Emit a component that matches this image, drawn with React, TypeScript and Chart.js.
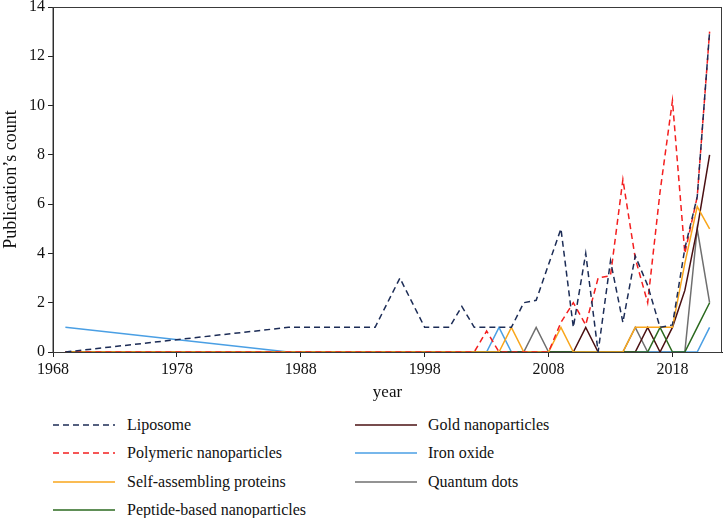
import React, { useEffect, useRef } from "react";
import { Chart, registerables } from "chart.js";

Chart.register(...registerables);

// ---- axis ticks ----
const xTickYears = [1968, 1978, 1988, 1998, 2008, 2018];
const yTickValues = [0, 2, 4, 6, 8, 10, 12, 14];

// ---- series data (year, publication count) ----
const liposomeYears = [1969, 1987, 1994, 1996, 1998, 2000, 2001, 2002, 2005, 2006, 2007, 2009, 2010, 2011, 2012, 2013, 2014, 2015, 2016, 2017, 2018, 2019, 2020, 2021];
const liposomeCounts = [0, 1, 1, 3, 1, 1, 1.85, 1, 1, 2, 2.1, 5, 1, 4, 0, 3.7, 1.2, 3.9, 2.7, 1, 1.1, 4.2, 6.3, 13];

const polymericYears = [1969, 2002, 2003, 2004, 2008, 2009, 2010, 2011, 2012, 2013, 2014, 2015, 2016, 2017, 2018, 2019, 2020, 2021];
const polymericCounts = [0, 0, 0.85, 0, 0, 1.2, 2, 1.1, 3, 3.1, 7, 3.8, 2, 6.5, 10.2, 4, 6.3, 13];

const selfAssemblingYears = [1969, 2004, 2005, 2006, 2008, 2009, 2010, 2014, 2015, 2016, 2017, 2018, 2019, 2020, 2021];
const selfAssemblingCounts = [0, 0, 1, 0, 0, 1, 0, 0, 1, 1, 1, 1, 3.6, 5.9, 5];

const peptideYears = [1969, 2016, 2017, 2018, 2019, 2020, 2021];
const peptideCounts = [0, 0, 1, 0, 0, 1, 2];

const goldYears = [1969, 2010, 2011, 2012, 2015, 2016, 2017, 2018, 2019, 2020, 2021];
const goldCounts = [0, 0, 1, 0, 0, 1, 0, 1, 2.5, 5, 8];

const ironOxideYears = [1969, 1987, 2003, 2004, 2005, 2020, 2021];
const ironOxideCounts = [1, 0, 0, 1, 0, 0, 1];

const quantumDotsYears = [1969, 2006, 2007, 2008, 2014, 2015, 2016, 2019, 2020, 2021];
const quantumDotsCounts = [0, 0, 1, 0, 0, 1, 0, 0, 5, 2];

const seriesNames = [
  "Liposome",
  "Polymeric nanoparticles",
  "Self-assembling proteins",
  "Peptide-based nanoparticles",
  "Gold nanoparticles",
  "Iron oxide",
  "Quantum dots",
];

const seriesData = [
  [liposomeYears, liposomeCounts],
  [polymericYears, polymericCounts],
  [selfAssemblingYears, selfAssemblingCounts],
  [peptideYears, peptideCounts],
  [goldYears, goldCounts],
  [ironOxideYears, ironOxideCounts],
  [quantumDotsYears, quantumDotsCounts],
];

// ---- styles ----
const seriesColors = ["#1c2c56", "#f41f1f", "#f9a61b", "#2b6a1f", "#4a1012", "#4a9fe4", "#6f6f6f"];
const seriesDashed = [true, true, false, false, false, false, false];

const FONT = "'Liberation Serif', 'Times New Roman', serif";
const W = 723;
const CANVAS_H = 405;

const framePlugin = {
  id: "frame",
  afterDatasetsDraw(chart: any) {
    const { ctx, chartArea } = chart;
    ctx.save();
    ctx.strokeStyle = "#3a3a3a";
    ctx.lineWidth = 1;
    ctx.strokeRect(chartArea.left, chartArea.top + 0.5, chartArea.right - chartArea.left - 0.5, chartArea.bottom - chartArea.top);
    ctx.restore();
  },
};

export default function App() {
  const canvasRef = useRef<HTMLCanvasElement | null>(null);

  useEffect(() => {
    const canvas = canvasRef.current;
    if (!canvas) return;
    const datasets = seriesNames.map((name, i) => {
      const [years, counts] = seriesData[i];
      return {
        label: name,
        data: years.map((x, j) => ({ x, y: counts[j] })),
        borderColor: seriesColors[i],
        backgroundColor: seriesColors[i],
        borderWidth: 1.5,
        borderDash: seriesDashed[i] ? [6, 4] : [],
        pointRadius: 0,
        pointHoverRadius: 0,
        tension: 0,
        fill: false,
      };
    });

    const chart = new Chart(canvas, {
      type: "line",
      data: { datasets },
      plugins: [framePlugin],
      options: {
        animation: false,
        responsive: false,
        maintainAspectRatio: false,
        devicePixelRatio: 1,
        layout: { padding: { top: 7, right: 1, left: 0, bottom: 0 } },
        plugins: {
          legend: { display: false },
          tooltip: { enabled: false },
        },
        scales: {
          x: {
            type: "linear",
            min: 1968,
            max: 2022,
            afterBuildTicks: (scale: any) => {
              scale.ticks = xTickYears.map((v) => ({ value: v }));
            },
            afterFit: (scale: any) => {
              scale.height = CANVAS_H - 352;
            },
            grid: { display: true, drawOnChartArea: false, drawTicks: true, tickLength: 5, color: "#222" },
            border: { display: true, color: "#222", width: 1 },
            ticks: {
              font: { family: FONT, size: 16 },
              color: "#111",
              padding: 3,
              maxRotation: 0,
              autoSkip: false,
              callback: (v: any) => String(v),
            },
            title: {
              display: true,
              text: "year",
              font: { family: FONT, size: 17 },
              color: "#111",
              padding: { top: 0, bottom: 2 },
            },
          },
          y: {
            type: "linear",
            min: 0,
            max: 14,
            afterBuildTicks: (scale: any) => {
              scale.ticks = yTickValues.map((v) => ({ value: v }));
            },
            afterFit: (scale: any) => {
              scale.width = 53;
              scale.paddingTop = 0;
            },
            grid: { display: true, drawOnChartArea: false, drawTicks: true, tickLength: 5, color: "#222" },
            border: { display: true, color: "#222", width: 1 },
            ticks: {
              font: { family: FONT, size: 16 },
              color: "#111",
              padding: 3,
              autoSkip: false,
            },
            title: {
              display: true,
              text: "Publication\u2019s count",
              font: { family: FONT, size: 18 },
              color: "#111",
              padding: { top: 0, bottom: 0 },
            },
          },
        },
      } as any,
    });
    return () => chart.destroy();
  }, []);

  const rowY = [424.5, 453, 481.5, 509.5];
  const colLineX = [53, 355];
  const colTextX = [127, 428];

  return (
    <div style={{ position: "absolute", left: 0, top: 0, width: W, height: 518, background: "#fff" }}>
      <canvas ref={canvasRef} width={W} height={CANVAS_H} style={{ position: "absolute", left: 0, top: 0, width: W, height: CANVAS_H }} />
      {seriesNames.map((name, i) => {
        const col = i < 4 ? 0 : 1;
        const row = i < 4 ? i : i - 4;
        const y = rowY[row];
        return (
          <React.Fragment key={name}>
            <svg
              width={62}
              height={6}
              style={{ position: "absolute", left: colLineX[col], top: y - 3 }}
            >
              <line
                x1={0}
                y1={3}
                x2={62}
                y2={3}
                stroke={seriesColors[i]}
                strokeWidth={1.5}
                strokeDasharray={seriesDashed[i] ? "6 4" : undefined}
              />
            </svg>
            <div
              style={{
                position: "absolute",
                left: colTextX[col],
                top: y - 10,
                height: 20,
                lineHeight: "20px",
                fontFamily: FONT,
                fontSize: 16,
                color: "#111",
                whiteSpace: "nowrap",
              }}
            >
              {name}
            </div>
          </React.Fragment>
        );
      })}
    </div>
  );
}
